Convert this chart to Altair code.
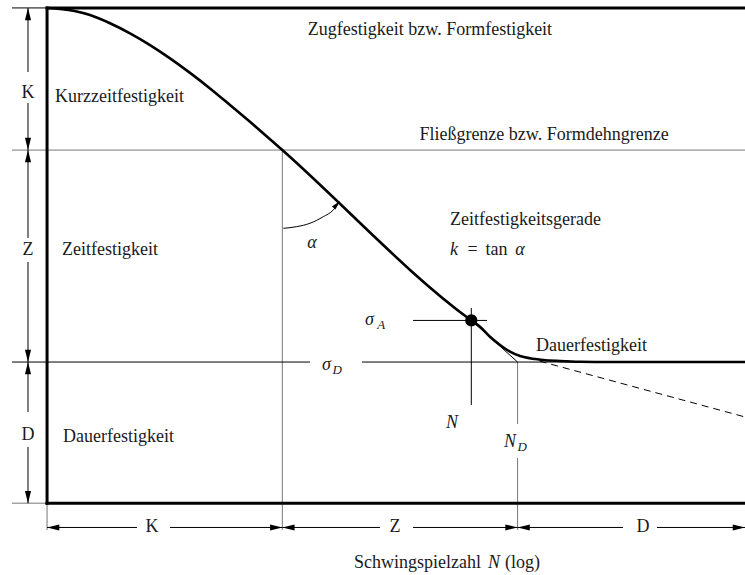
import altair as alt
import pandas as pd

# Axis extents: x is log N (schematic decades), y is stress in % of R_m
X_MIN, X_MAX = -0.6, 8.9
Y_MIN, Y_MAX = -14.5, 101.6

# Range boundaries on the log N axis
N_K = 3.0        # end of Kurzzeitfestigkeit
N_D = 6.0        # knee point (Dauerfestigkeit begins)
X_END = 8.9
X_LEFT = -0.447  # start of guide lines left of the frame
X_DIM = -0.243   # left dimension arrows
Y_DIM = -4.9     # bottom dimension arrows
Y_TICK = -5.41   # lower end of the extension lines

# Stress levels
R_M = 100.0      # Zugfestigkeit
R_E = 71.3       # Fließgrenze
S_D = 28.5       # Dauerfestigkeit

# Wöhler curve (thick line)
curve_x = [0.0, 0.335, 0.548, 0.803, 1.058, 1.313, 1.568, 1.823, 2.078, 2.333,
           2.588, 2.843, 3.0, 5.41, 5.521, 5.648, 5.776, 5.903, 6.031, 6.158,
           6.324, 6.541, 6.796, 7.179, 8.9]
curve_y = [100.0, 99.43, 98.56, 96.9, 94.86, 92.49, 89.81, 86.88, 83.75, 80.4,
           77.0, 73.5, 71.3, 36.9, 35.64, 33.62, 31.95, 30.59, 29.72, 29.26,
           28.92, 28.72, 28.57, 28.51, 28.5]

# Operating point (N, sigma_A)
PT_X, PT_Y = 5.41, 36.9

# Angle arc alpha
arc_x = [3.013, 3.183, 3.353, 3.523, 3.65, 3.70]
arc_y = [55.5, 55.83, 56.52, 57.85, 59.2, 60.2]
ARC_TIP = (3.736, 61.02)

# Sloped continuation below the knee (dashed)
dash_x = [6.133, 8.9]
dash_y = [29.32, 17.41]

# Segments: (x, y, x2, y2)
frame_segs = [
    (0.0, 0.0, 0.0, R_M),
    (0.0, R_M, X_END, R_M),
    (0.0, 0.0, X_END, 0.0),
]
black_segs = [
    (X_LEFT, R_M, 0.0, R_M),
    (X_LEFT, S_D, 3.353, S_D),
    (4.016, S_D, X_END, S_D),
    (4.667, PT_Y, 5.61, PT_Y),
    (PT_X, 39.4, PT_X, 19.83),
    (PT_X, PT_Y, N_D, S_D),
    # left dimension lines
    (X_DIM, R_M, X_DIM, 87.06),
    (X_DIM, 80.8, X_DIM, R_E),
    (X_DIM, R_E, X_DIM, 53.55),
    (X_DIM, 48.7, X_DIM, S_D),
    (X_DIM, S_D, X_DIM, 18.42),
    (X_DIM, 11.35, X_DIM, 0.0),
    # bottom dimension lines
    (0.0, Y_DIM, 1.147, Y_DIM),
    (1.568, Y_DIM, N_K, Y_DIM),
    (N_K, Y_DIM, 4.246, Y_DIM),
    (4.667, Y_DIM, N_D, Y_DIM),
    (N_D, Y_DIM, 7.344, Y_DIM),
    (7.778, Y_DIM, X_END, Y_DIM),
]
gray_segs = [
    (X_LEFT, R_E, X_END, R_E),
    (X_LEFT, 0.0, 0.0, 0.0),
    (0.0, 0.0, 0.0, Y_TICK),
    (N_K, R_E, N_K, Y_TICK),
    (N_D, S_D, N_D, 16.0),
    (N_D, 9.13, N_D, Y_TICK),
]

# Arrowheads: (x, y, angle) with the tip at (x, y); angle 0 points up
arrow_heads = [
    (X_DIM, R_M, 0), (X_DIM, R_E, 180), (X_DIM, R_E, 0),
    (X_DIM, S_D, 180), (X_DIM, S_D, 0), (X_DIM, 0.0, 180),
    (0.0, Y_DIM, 270), (N_K, Y_DIM, 90), (N_K, Y_DIM, 270),
    (N_D, Y_DIM, 90), (N_D, Y_DIM, 270), (X_END, Y_DIM, 90),
]

# Labels: (text, x, y, align)
plain_labels = [
    ("Zugfestigkeit bzw. Formfestigkeit", 4.883, 95.54, "center"),
    ("Kurzzeitfestigkeit", 0.101, 82.02, "left"),
    ("Fließgrenze bzw. Formdehngrenze", 6.337, 74.34, "center"),
    ("Zeitfestigkeitsgerade", 5.138, 57.18, "left"),
    ("Zeitfestigkeit", 0.19, 51.13, "left"),
    ("Dauerfestigkeit", 6.235, 31.74, "left"),
    ("Dauerfestigkeit", 0.203, 13.37, "left"),
    ("=", 5.425, 51.13, "center"),
    ("tan", 5.731, 51.13, "center"),
    ("Schwingspielzahl", 5.534, -12.07, "right"),
    ("(log)", 5.84, -12.07, "left"),
    # dimension letters
    ("K", X_DIM, 82.82, "center"),
    ("Z", X_DIM, 51.13, "center"),
    ("D", X_DIM, 13.77, "center"),
    ("K", 1.338, Y_DIM, "center"),
    ("Z", 4.437, Y_DIM, "center"),
    ("D", 7.6, Y_DIM, "center"),
]
math_labels = [
    ("k", 5.189, 51.13, "center"),
    ("α", 6.031, 51.13, "center"),
    ("α", 3.379, 52.54, "center"),
    ("σ", 4.054, 36.99, "left"),
    ("σ", 3.506, 27.9, "left"),
    ("N", 5.164, 16.2, "center"),
    ("N", 5.827, 12.36, "left"),
    ("N", 5.623, -12.07, "left"),
]
sub_labels = [
    ("A", 4.21, 35.9, "left"),
    ("D", 3.64, 26.9, "left"),
    ("D", 6.0, 11.35, "left"),
]

FONT = "'Liberation Serif', 'Times New Roman', 'DejaVu Serif', serif"
TEXT_COLOR = "#1a1a1a"
GRAY = "#777777"
ARROW = "M0,0L0.5,2L-0.5,2Z"

xs = alt.Scale(domain=[X_MIN, X_MAX], nice=False, zero=False)
ys = alt.Scale(domain=[Y_MIN, Y_MAX], nice=False, zero=False)


def seg_df(segs):
    return pd.DataFrame(segs, columns=["x", "y", "x2", "y2"])


def rules(segs, **mark):
    return alt.Chart(seg_df(segs)).mark_rule(**mark).encode(
        x=alt.X("x:Q", scale=xs, axis=None),
        y=alt.Y("y:Q", scale=ys, axis=None),
        x2="x2:Q",
        y2="y2:Q",
    )


def line(xv, yv, **mark):
    df = pd.DataFrame({"x": xv, "y": yv, "i": range(len(xv))})
    return alt.Chart(df).mark_line(**mark).encode(
        x=alt.X("x:Q", scale=xs, axis=None),
        y=alt.Y("y:Q", scale=ys, axis=None),
        order="i:Q",
    )


def texts(rows, **mark):
    """One text layer per alignment, all sharing the given style."""
    layers = []
    for al in ("left", "center", "right"):
        sub = [r[:3] for r in rows if r[3] == al]
        if not sub:
            continue
        df = pd.DataFrame(sub, columns=["t", "x", "y"])
        layers.append(alt.Chart(df).mark_text(align=al, baseline="middle", **mark).encode(
            x=alt.X("x:Q", scale=xs, axis=None),
            y=alt.Y("y:Q", scale=ys, axis=None),
            text="t:N",
        ))
    return layers


frame = rules(frame_segs, color="black", strokeWidth=3, strokeCap="square")
thin_black = rules(black_segs, color="black", strokeWidth=1)
thin_gray = rules(gray_segs, color=GRAY, strokeWidth=1)

curve = line(curve_x, curve_y, color="black", strokeWidth=2.6, interpolate="monotone")
dashed = line(dash_x, dash_y, color="black", strokeWidth=1, strokeDash=[7, 5])
arc = line(arc_x, arc_y, color="black", strokeWidth=1, interpolate="monotone")

heads_df = pd.DataFrame(arrow_heads + [(ARC_TIP[0], ARC_TIP[1], 42)],
                        columns=["x", "y", "angle"])
heads_df["s"] = [150] * len(arrow_heads) + [90]
heads = alt.Chart(heads_df).mark_point(
    shape=ARROW, filled=True, color="black", opacity=1, strokeWidth=0
).encode(
    x=alt.X("x:Q", scale=xs, axis=None),
    y=alt.Y("y:Q", scale=ys, axis=None),
    angle=alt.Angle("angle:Q", scale=None),
    size=alt.Size("s:Q", scale=None, legend=None),
)

point = alt.Chart(pd.DataFrame({"x": [PT_X], "y": [PT_Y]})).mark_circle(
    size=150, color="black", opacity=1
).encode(
    x=alt.X("x:Q", scale=xs, axis=None),
    y=alt.Y("y:Q", scale=ys, axis=None),
)

text_layers = (
    texts(plain_labels, font=FONT, fontSize=18, color=TEXT_COLOR)
    + texts(math_labels, font=FONT, fontSize=18, fontStyle="italic", color=TEXT_COLOR)
    + texts(sub_labels, font=FONT, fontSize=13, fontStyle="italic", color=TEXT_COLOR)
)

chart = alt.layer(
    thin_gray, thin_black, dashed, frame, curve, arc, heads, point, *text_layers
).properties(
    width=745, height=575, padding=0,
    autosize=alt.AutoSizeParams(type="none"),
    background="white",
).configure_view(stroke=None)

chart.save("out.html", embed_options={"renderer": "svg", "actions": False})
